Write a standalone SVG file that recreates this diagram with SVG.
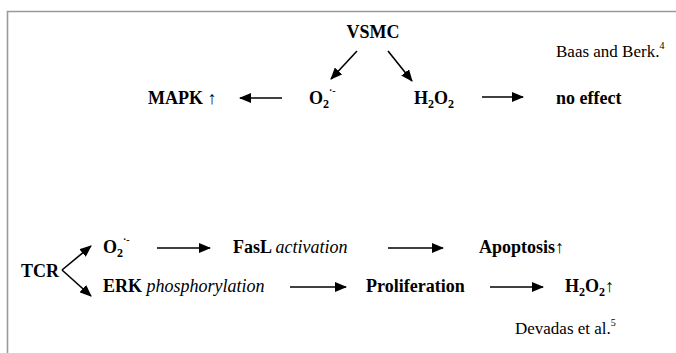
<svg xmlns="http://www.w3.org/2000/svg" width="676" height="353" viewBox="0 0 676 353" font-family="'Liberation Serif', 'Times New Roman', serif">
<defs>
<marker id="ah" viewBox="0 0 12 10" refX="11" refY="5" markerWidth="12" markerHeight="10" markerUnits="userSpaceOnUse" orient="auto">
<path d="M0,0 L12,5 L0,10 z" fill="#000"/>
</marker>
<style>
text{font-family:'Liberation Serif','Times New Roman',serif;fill:#000}
.b{font-weight:bold;font-size:18px}
.r{font-size:17px}
.i{font-style:italic;font-weight:normal}
.sub{font-size:12px}
.sup{font-size:10px}
.c line,.c path{stroke:#000;stroke-width:1.6;fill:none;marker-end:url(#ah)}
</style>
</defs>
<rect width="676" height="353" fill="#fff"/>
<path d="M7.5,353 V11.5 H676" fill="none" stroke="#9a9a9a" stroke-width="1.6"/>
<g id="vsmc"><text class="b" x="373" y="38" text-anchor="middle">VSMC</text></g>
<g id="baas"><text class="r" x="556" y="57">Baas and Berk.<tspan class="sup" dy="-8">4</tspan></text></g>
<g id="mapk"><text class="b" x="148" y="104">MAPK ↑</text></g>
<g id="o2a"><text class="b" x="309" y="104">O<tspan class="sub" dy="4">2</tspan><tspan class="sup" dy="-14">·-</tspan></text></g>
<g id="h2o2a"><text class="b" x="414" y="104">H<tspan class="sub" dy="4">2</tspan><tspan dy="-4">O</tspan><tspan class="sub" dy="4">2</tspan></text></g>
<g id="noeffect"><text class="b" x="556" y="104">no effect</text></g>
<g id="tcr"><text class="b" x="21" y="277">TCR</text></g>
<g id="o2b"><text class="b" x="103" y="253">O<tspan class="sub" dy="4">2</tspan><tspan class="sup" dy="-14">·-</tspan></text></g>
<g id="fasl"><text class="b" x="233" y="253">FasL <tspan class="i">activation</tspan></text></g>
<g id="apoptosis"><text class="b" x="479" y="253">Apoptosis↑</text></g>
<g id="erk"><text class="b" x="103" y="292">ERK <tspan class="i">phosphorylation</tspan></text></g>
<g id="prolif"><text class="b" x="366" y="292">Proliferation</text></g>
<g id="h2o2b"><text class="b" x="565" y="292">H<tspan class="sub" dy="4">2</tspan><tspan dy="-4">O</tspan><tspan class="sub" dy="4">2</tspan><tspan dy="-4">↑</tspan></text></g>
<g id="devadas"><text class="r" x="515" y="334">Devadas et al.<tspan class="sup" dy="-8">5</tspan></text></g>
<g id="connectors" class="c">
<line x1="357" y1="51" x2="331" y2="79"/>
<line x1="388" y1="51" x2="412" y2="81"/>
<line x1="282" y1="98" x2="240" y2="98"/>
<line x1="482" y1="97" x2="523" y2="97"/>
<line x1="157" y1="248" x2="210" y2="248"/>
<line x1="388" y1="248" x2="443" y2="248"/>
<line x1="290" y1="287" x2="346" y2="287"/>
<line x1="490" y1="287" x2="543" y2="287"/>
<path d="M62,270 L91,246"/>
<path d="M62,270 L91,296"/>
</g>
</svg>
